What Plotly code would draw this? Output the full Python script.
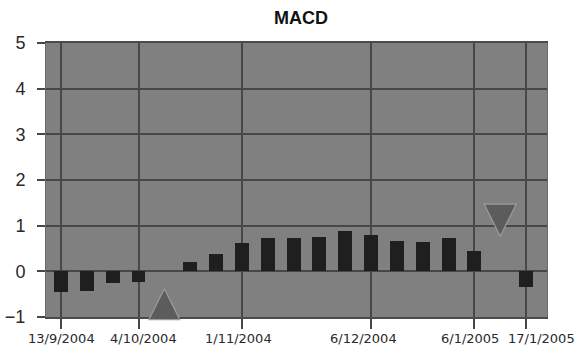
import plotly.graph_objects as go

# Weekly MACD histogram
weeks = [
    "13/9/2004", "20/9/2004", "27/9/2004", "4/10/2004", "11/10/2004",
    "18/10/2004", "25/10/2004", "1/11/2004", "8/11/2004", "15/11/2004",
    "22/11/2004", "29/11/2004", "6/12/2004", "13/12/2004", "20/12/2004",
    "27/12/2004", "6/1/2005", "10/1/2005", "17/1/2005",
]
macd = [
    -0.45, -0.42, -0.26, -0.24, None,
    0.20, 0.39, 0.63, 0.72, 0.72,
    0.75, 0.88, 0.79, 0.66, 0.64,
    0.72, 0.44, None, -0.34,
]

# Crossing signals (apex of each arrow)
buy_week, buy_level = "11/10/2004", -0.38
sell_week, sell_level = "10/1/2005", 0.77

tick_weeks = ["13/9/2004", "4/10/2004", "1/11/2004", "6/12/2004", "6/1/2005", "17/1/2005"]
# small horizontal nudges so neighbouring date labels don't collide
label_nudge = [1, 5, -3, -8, -4, 15]
y_ticks = [-1, 0, 1, 2, 3, 4, 5]

grid = "#474747"
font = "Liberation Sans, Arial, sans-serif"

fig = go.Figure()
fig.add_trace(go.Bar(
    x=weeks, y=macd, width=0.54,
    marker=dict(color="#1f1f1f", line=dict(width=0)),
))
fig.add_trace(go.Scatter(
    x=[buy_week], y=[buy_level], mode="markers", cliponaxis=False,
    marker=dict(symbol="arrow-up", size=31, color="#5c5c5c",
                line=dict(color="#9c9c9c", width=1.2)),
))
fig.add_trace(go.Scatter(
    x=[sell_week], y=[sell_level], mode="markers", cliponaxis=False,
    marker=dict(symbol="arrow-down", size=32, color="#5c5c5c",
                line=dict(color="#9c9c9c", width=1.2)),
))

for wk, dx in zip(tick_weeks, label_nudge):
    fig.add_annotation(
        x=wk, y=0, xref="x", yref="paper", text=wk, showarrow=False,
        xanchor="center", yanchor="top", xshift=dx, yshift=-12,
        font=dict(family="DejaVu Sans, sans-serif", size=13, color="#2a2a2a"),
    )

fig.update_layout(
    width=581, height=347,
    margin=dict(l=46, r=34, t=43, b=30),
    paper_bgcolor="white", plot_bgcolor="#808080",
    showlegend=False, bargap=0,
    font=dict(family=font, color="#2a2a2a"),
    title=dict(text="<b>MACD</b>", x=0.518, xanchor="center", y=0.948, yanchor="middle",
               font=dict(size=18, color="#111111", family=font)),
)
fig.update_xaxes(
    type="category", categoryorder="array", categoryarray=weeks,
    range=[-0.58, 18.81], automargin=False, showticklabels=False,
    tickmode="array", tickvals=tick_weeks,
    showgrid=True, gridcolor=grid, gridwidth=2,
    ticks="outside", ticklen=10, tickwidth=1.5, tickcolor=grid,
    showline=True, linecolor="#4a4a4a", linewidth=2, mirror=True,
    layer="below traces", zeroline=False,
)
fig.update_yaxes(
    range=[-1, 5], tickmode="array", tickvals=y_ticks, automargin=False,
    showgrid=True, gridcolor=grid, gridwidth=2,
    ticks="outside", ticklen=8, tickwidth=2, tickcolor=grid,
    ticklabelstandoff=8,
    showline=True, linecolor="#6a6a6a", linewidth=1, mirror=True,
    zeroline=False,
    tickfont=dict(size=18, color="#2a2a2a"),
    layer="below traces",
)

fig.write_html("out.html")
